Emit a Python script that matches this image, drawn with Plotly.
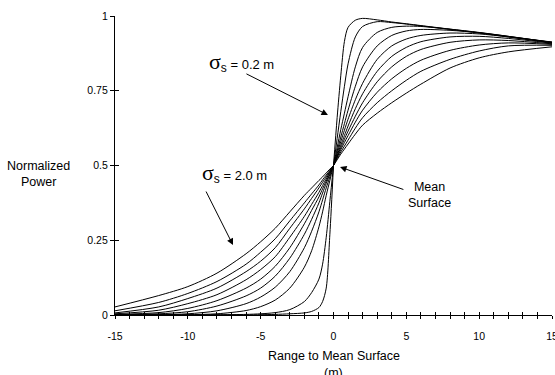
import plotly.graph_objects as go

SIGMAS = [0.2, 0.4, 0.6, 0.8, 1.0, 1.2, 1.4, 1.6, 1.8, 2.0]

X_LEFT = [-15, -12, -10, -8, -6, -5, -4, -3, -2, -1.5, -1, -0.75, -0.5, -0.25, 0]
LEFT_Y = [
    [0, 0, 0, 0, 0, 0.001, 0.002, 0.004, 0.007, 0.012, 0.025, 0.045, 0.09, 0.27, 0.5],
    [0, 0, 0, 0.001, 0.002, 0.004, 0.008, 0.018, 0.045, 0.075, 0.12, 0.17, 0.26, 0.38, 0.5],
    [0.0, 0.0, 0.001, 0.004, 0.015, 0.028, 0.05, 0.09, 0.16, 0.215, 0.295, 0.345, 0.4, 0.45, 0.5],
    [0.0, 0.001, 0.004, 0.014, 0.038, 0.06, 0.093, 0.145, 0.225, 0.28, 0.345, 0.385, 0.425, 0.462, 0.5],
    [0.001, 0.004, 0.011, 0.03, 0.064, 0.09, 0.13, 0.19, 0.27, 0.32, 0.375, 0.408, 0.44, 0.47, 0.5],
    [0.002, 0.008, 0.022, 0.048, 0.09, 0.12, 0.163, 0.225, 0.305, 0.35, 0.395, 0.422, 0.448, 0.474, 0.5],
    [0.004, 0.016, 0.038, 0.068, 0.118, 0.152, 0.195, 0.26, 0.33, 0.37, 0.41, 0.433, 0.455, 0.478, 0.5],
    [0.007, 0.027, 0.055, 0.09, 0.145, 0.18, 0.225, 0.29, 0.355, 0.39, 0.425, 0.444, 0.462, 0.481, 0.5],
    [0.014, 0.042, 0.072, 0.112, 0.17, 0.21, 0.255, 0.315, 0.375, 0.405, 0.435, 0.452, 0.468, 0.484, 0.5],
    [0.027, 0.065, 0.095, 0.14, 0.205, 0.245, 0.29, 0.345, 0.4, 0.425, 0.45, 0.462, 0.475, 0.488, 0.5],
]

X_RIGHT = [0, 0.25, 0.5, 0.75, 1, 1.5, 2, 3, 4, 5, 6, 8, 10, 12, 15]
RIGHT_Y = [
    [0.5, 0.66, 0.8, 0.915, 0.962, 0.986, 0.992, 0.987, 0.98, 0.974, 0.968, 0.956, 0.944, 0.931, 0.913],
    [0.5, 0.59, 0.68, 0.765, 0.84, 0.93, 0.965, 0.981, 0.978, 0.973, 0.967, 0.955, 0.943, 0.93, 0.912],
    [0.5, 0.56, 0.62, 0.675, 0.73, 0.83, 0.895, 0.945, 0.962, 0.966, 0.965, 0.956, 0.945, 0.932, 0.912],
    [0.5, 0.548, 0.595, 0.64, 0.685, 0.765, 0.83, 0.9, 0.935, 0.95, 0.955, 0.952, 0.944, 0.932, 0.911],
    [0.5, 0.54, 0.58, 0.618, 0.655, 0.72, 0.775, 0.855, 0.9, 0.923, 0.935, 0.943, 0.94, 0.93, 0.91],
    [0.5, 0.534, 0.568, 0.6, 0.632, 0.69, 0.74, 0.815, 0.865, 0.895, 0.914, 0.93, 0.932, 0.925, 0.909],
    [0.5, 0.53, 0.56, 0.588, 0.615, 0.665, 0.71, 0.78, 0.83, 0.865, 0.888, 0.912, 0.92, 0.918, 0.907],
    [0.5, 0.527, 0.553, 0.577, 0.6, 0.645, 0.685, 0.745, 0.79, 0.825, 0.852, 0.885, 0.903, 0.91, 0.905],
    [0.5, 0.523, 0.545, 0.565, 0.585, 0.625, 0.66, 0.71, 0.75, 0.785, 0.815, 0.855, 0.883, 0.9, 0.902],
    [0.5, 0.519, 0.538, 0.555, 0.572, 0.605, 0.635, 0.675, 0.71, 0.742, 0.772, 0.826, 0.86, 0.88, 0.897],
]

X_TICKS = [-15, -10, -5, 0, 5, 10, 15]
X_TICK_TEXT = ["-15", "-10", "-5", "0", "5", "10", "15"]
Y_TICKS = [0, 0.25, 0.5, 0.75, 1]
Y_TICK_TEXT = ["0", "0.25", "0.5", "0.75", "1"]

FONT = "Liberation Sans, Arial, Helvetica, sans-serif"

fig = go.Figure()
for s, yl, yr in zip(SIGMAS, LEFT_Y, RIGHT_Y):
    for xs, ys in ((X_LEFT, yl), (X_RIGHT, yr)):
        fig.add_trace(go.Scatter(
            x=xs, y=ys, mode="lines",
            line=dict(color="black", width=1, shape="spline", smoothing=0.8),
            showlegend=False, hoverinfo="skip", name=f"σs={s}",
        ))

# invisible trace to host the overlay axes (inward half of crossing ticks)
fig.add_trace(go.Scatter(x=[X_TICKS[0]], y=[Y_TICKS[0]], xaxis="x2", yaxis="y2",
                         mode="markers", marker=dict(opacity=0), showlegend=False,
                         hoverinfo="skip"))

axis_common = dict(showgrid=False, zeroline=False, showline=True, linecolor="black",
                   linewidth=1.3, tickcolor="black", tickwidth=1, automargin=False)

minor_out = dict(dtick=1, tick0=0, ticks="outside", ticklen=3, tickcolor="black",
                 tickwidth=1, showgrid=False)
minor_in = dict(dtick=1, tick0=0, ticks="inside", ticklen=3, tickcolor="black",
                tickwidth=1, showgrid=False)

fig.update_layout(
    template="none",
    width=555, height=375,
    margin=dict(l=115, r=3, t=16, b=60),
    paper_bgcolor="white", plot_bgcolor="white",
    font=dict(family=FONT, color="black", size=10.5),
    xaxis=dict(range=[-15, 15], tickvals=X_TICKS, ticktext=X_TICK_TEXT, ticks="outside",
               ticklen=3, minor=minor_out,
               ticklabelstandoff=8, ticklabeloverflow="allow", tickfont=dict(size=10.5),
               **axis_common),
    yaxis=dict(range=[0, 1], tickvals=Y_TICKS, ticktext=Y_TICK_TEXT, ticks="outside",
               ticklen=4, ticklabeloverflow="allow", tickfont=dict(size=10.5), **axis_common),
    xaxis2=dict(range=[-15, 15], overlaying="x", anchor="y2", tickvals=X_TICKS, ticks="inside",
                ticklen=3, showticklabels=False, minor=minor_in, **axis_common),
    yaxis2=dict(range=[0, 1], overlaying="y", anchor="x2", tickvals=Y_TICKS, ticks="inside",
                ticklen=4, showticklabels=False, **axis_common),
)

sig_big = ("<span style='font-family:Liberation Serif, Times New Roman, serif;"
           "font-size:22px'>σ</span><sub><span style='font-size:12px'>s</span></sub>")

annots = [
    # axis titles
    dict(xref="paper", yref="paper", x=0.5, y=-0.137, text="Range to Mean Surface",
         showarrow=False, font=dict(size=12.5), xanchor="center", yanchor="middle"),
    dict(xref="paper", yref="paper", x=0.5, y=-0.193, text="(m)",
         showarrow=False, font=dict(size=12.5), xanchor="center", yanchor="middle"),
    dict(xref="paper", yref="paper", x=-0.175, y=0.47, text="Normalized<br>Power",
         showarrow=False, font=dict(size=12.5), xanchor="center", yanchor="middle"),
    # labels
    dict(xref="x", yref="y", x=-6.3, y=0.845, text=sig_big + " = 0.2 m",
         showarrow=False, font=dict(size=13), xanchor="center", yanchor="middle"),
    dict(xref="x", yref="y", x=-6.8, y=0.475, text=sig_big + " = 2.0 m",
         showarrow=False, font=dict(size=13), xanchor="center", yanchor="middle"),
    dict(xref="x", yref="y", x=6.6, y=0.40, text="Mean<br>Surface",
         showarrow=False, font=dict(size=12.5), xanchor="center", yanchor="middle"),
    # arrows
    dict(xref="x", yref="y", axref="x", ayref="y", x=-0.38, y=0.669, ax=-6.08, ay=0.809,
         text="", showarrow=True, arrowhead=2, arrowsize=1.3, arrowwidth=1, arrowcolor="black"),
    dict(xref="x", yref="y", axref="x", ayref="y", x=-6.9, y=0.234, ax=-8.8, ay=0.418,
         text="", showarrow=True, arrowhead=2, arrowsize=1.3, arrowwidth=1, arrowcolor="black"),
    dict(xref="x", yref="y", axref="x", ayref="y", x=0.45, y=0.495, ax=4.9, ay=0.418,
         text="", showarrow=True, arrowhead=2, arrowsize=1.3, arrowwidth=1, arrowcolor="black"),
]
fig.update_layout(annotations=annots)

fig.write_html("out.html", config={"displayModeBar": False},
               post_script="document.body.style.margin='0px';")
